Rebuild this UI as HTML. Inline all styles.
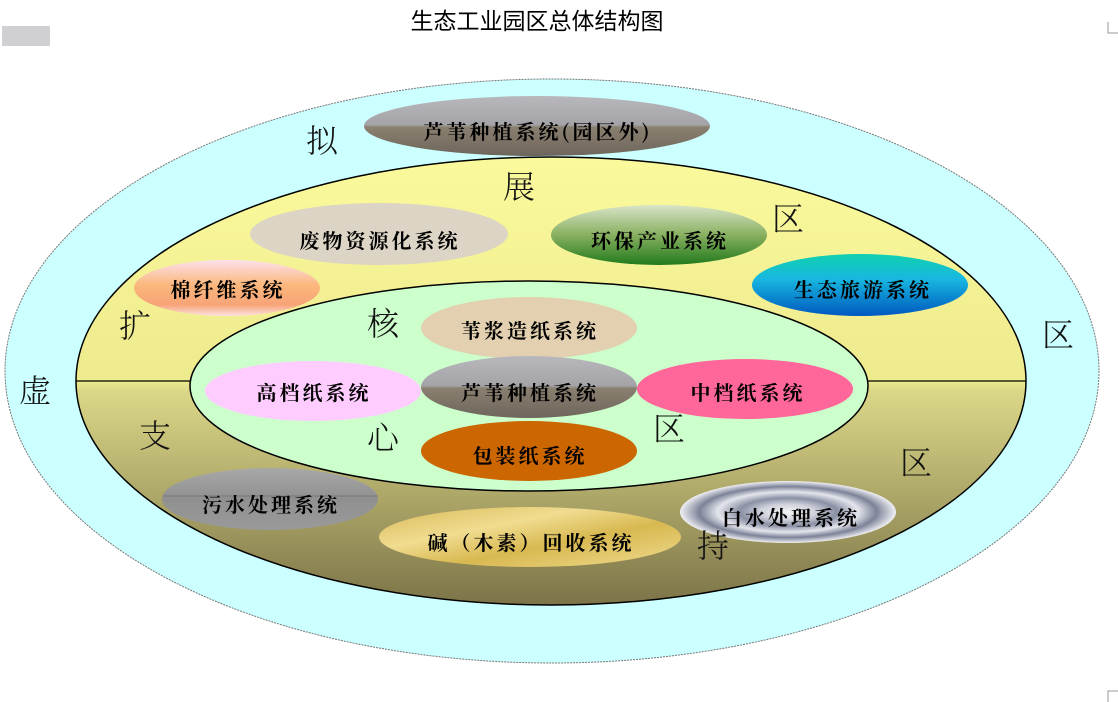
<!DOCTYPE html>
<html><head><meta charset="utf-8"><style>
html,body{margin:0;padding:0;background:#fff;}
svg{display:block;}
.big{font-family:"Noto Serif CJK SC","Liberation Serif",serif;font-size:32px;fill:#111;font-weight:300;}
.lab{font-family:"Noto Serif CJK SC","Liberation Serif",serif;font-size:20px;font-weight:700;fill:#000;letter-spacing:3px;}
</style></head><body>
<svg width="1118" height="702" viewBox="0 0 1118 702" xmlns="http://www.w3.org/2000/svg">
<defs>
<linearGradient id="mid" x1="0" y1="0" x2="0" y2="1">
<stop offset="0" stop-color="#fafa9c"/><stop offset="0.5" stop-color="#eeea8e"/><stop offset="0.52" stop-color="#dcd888"/><stop offset="1" stop-color="#7c7448"/></linearGradient>
<linearGradient id="reed" x1="0" y1="0" x2="0" y2="1">
<stop offset="0" stop-color="#b8b8bc"/><stop offset="0.48" stop-color="#a4a4a8"/><stop offset="0.52" stop-color="#8a8070"/><stop offset="1" stop-color="#6e665c"/></linearGradient>
<linearGradient id="green" x1="0" y1="0" x2="0" y2="1">
<stop offset="0" stop-color="#d8e4c8"/><stop offset="0.5" stop-color="#88b060"/><stop offset="1" stop-color="#217a1c"/></linearGradient>
<linearGradient id="peach" x1="0" y1="0" x2="0" y2="1">
<stop offset="0" stop-color="#fde0ec"/><stop offset="0.45" stop-color="#fbb77c"/><stop offset="0.8" stop-color="#f7a478"/><stop offset="1" stop-color="#fce0e0"/></linearGradient>
<linearGradient id="blue" x1="0" y1="0" x2="0" y2="1">
<stop offset="0" stop-color="#10d0b0"/><stop offset="0.4" stop-color="#18b8e0"/><stop offset="1" stop-color="#0058c0"/></linearGradient>
<linearGradient id="gray" x1="0" y1="0" x2="0" y2="1">
<stop offset="0" stop-color="#a8a8a8"/><stop offset="0.5" stop-color="#909090"/><stop offset="1" stop-color="#9a9a9a"/></linearGradient>
<linearGradient id="gold" x1="0" y1="0" x2="1" y2="1">
<stop offset="0" stop-color="#d8b858"/><stop offset="0.35" stop-color="#f0dc90"/><stop offset="0.6" stop-color="#d8b850"/><stop offset="1" stop-color="#f0dc90"/></linearGradient>
<radialGradient id="ring" cx="0.5" cy="0.5" r="0.5">
<stop offset="0" stop-color="#f4f4f6"/><stop offset="0.25" stop-color="#d0d2dc"/><stop offset="0.45" stop-color="#8a90a4"/><stop offset="0.65" stop-color="#e4e6ec"/><stop offset="0.82" stop-color="#7c8298"/><stop offset="1" stop-color="#f0f0f4"/></radialGradient>
</defs>
<rect x="0" y="0" width="1118" height="702" fill="#fff"/>
<rect x="2" y="26" width="48" height="20" fill="#d0d0d4"/>
<text x="537" y="29" text-anchor="middle" font-family="'Noto Sans CJK SC',sans-serif" font-size="23" fill="#000">生态工业园区总体结构图</text>

<ellipse cx="552" cy="371" rx="547" ry="292" fill="#ccffff" stroke="#777" stroke-width="1" stroke-dasharray="2,1"/>
<ellipse cx="551" cy="381" rx="475" ry="224" fill="url(#mid)" stroke="#000" stroke-width="1.5"/>
<line x1="76" y1="381" x2="190" y2="381" stroke="#000" stroke-width="1.2"/>
<line x1="866" y1="381" x2="1026" y2="381" stroke="#000" stroke-width="1.2"/>
<ellipse cx="529" cy="386" rx="339" ry="105" fill="#ccffcc" stroke="#000" stroke-width="1.5"/>

<ellipse cx="537" cy="126" rx="173" ry="30" fill="url(#reed)"/>
<ellipse cx="379" cy="234" rx="129" ry="31" fill="#dcd4c4"/>
<ellipse cx="659" cy="235" rx="108" ry="30" fill="url(#green)"/>
<ellipse cx="227" cy="288" rx="93" ry="28" fill="url(#peach)"/>
<ellipse cx="860" cy="285" rx="108" ry="31" fill="url(#blue)"/>
<ellipse cx="529" cy="328" rx="108" ry="31" fill="#e2d0b0"/>
<ellipse cx="313" cy="391" rx="108" ry="30" fill="#ffccff"/>
<ellipse cx="529" cy="387" rx="108" ry="31" fill="url(#reed)"/>
<ellipse cx="745" cy="389" rx="108" ry="30" fill="#ff6699"/>
<ellipse cx="529" cy="451" rx="108" ry="30" fill="#cc6600"/>
<ellipse cx="270" cy="499" rx="108" ry="31" fill="url(#gray)"/>
<line x1="163" y1="496" x2="378" y2="496" stroke="#777" stroke-width="1"/>
<ellipse cx="530" cy="537" rx="151" ry="30" fill="url(#gold)"/>
<ellipse cx="788" cy="512" rx="108" ry="31" fill="url(#ring)"/>

<g class="lab" text-anchor="middle">
<text x="538" y="139">芦苇种植系统(园区外)</text>
<text x="380" y="248">废物资源化系统</text>
<text x="660" y="248">环保产业系统</text>
<text x="228" y="297">棉纤维系统</text>
<text x="863" y="297">生态旅游系统</text>
<text x="530" y="338">苇浆造纸系统</text>
<text x="314" y="400">高档纸系统</text>
<text x="530" y="400">芦苇种植系统</text>
<text x="748" y="400">中档纸系统</text>
<text x="530" y="463">包装纸系统</text>
<text x="271" y="512">污水处理系统</text>
<text x="531" y="550">碱（木素）回收系统</text>
<text x="791" y="525">白水处理系统</text>
</g>
<g class="big" text-anchor="middle">
<text x="322" y="152">拟</text>
<text x="519" y="198">展</text>
<text x="788" y="230">区</text>
<text x="135" y="337">扩</text>
<text x="1058" y="346">区</text>
<text x="35" y="402">虚</text>
<text x="383" y="335">核</text>
<text x="155" y="447">支</text>
<text x="383" y="449">心</text>
<text x="669" y="440">区</text>
<text x="916" y="474">区</text>
<text x="713" y="557">持</text>
</g>
<path d="M1108 702 V691 H1118" fill="none" stroke="#999"/>
<path d="M1108 22 V33 H1118" fill="none" stroke="#999"/>
</svg>
</body></html>
